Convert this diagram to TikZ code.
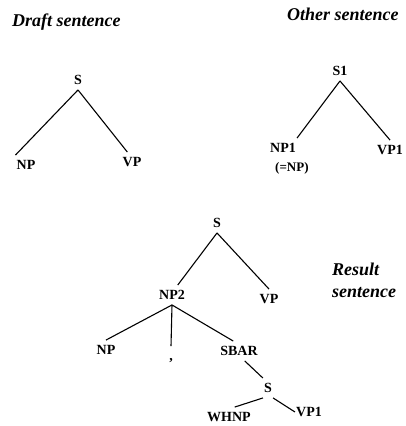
\documentclass[tikz,border=0pt]{standalone}
\usepackage{fontspec}
\setmainfont{Liberation Serif}
\usetikzlibrary{positioning}

\tikzset{
  cat/.style={inner xsep=1pt, inner ysep=5pt, text height=9.5pt, text depth=0pt,
    font=\fontsize{14}{16}\selectfont\bfseries},
  note/.style={font=\fontsize{18}{22}\selectfont\bfseries\itshape, inner sep=0pt},
  branch/.style={line width=1.1pt}
}

\begin{document}
\begin{tikzpicture}[x=1pt, y=-1pt]
    \useasboundingbox (0,0) rectangle (405,426);

    % Labels
    \node[note, anchor=base west] (draft) at (12,26) {Draft sentence};
    \node[note, anchor=base west] (other) at (287,20) {Other sentence};
    \node[note, anchor=north west, align=left] (result) at (332,263) {Result\\sentence};

    % Draft tree
    \node[cat] (s) at (78,80) {S};
    \node[cat] (np) at (26,165) {NP};
    \node[cat] (vp) at (132,162) {VP};
    \draw[branch] (s.south) -- (np.north west);
    \draw[branch] (s.south) -- (vp.115);

    % Other tree
    \node[cat] (s1) at (340,71) {S1};
    \node[cat] (np1) at (283,148) {NP1};
    \node[cat, anchor=west, text height=9pt, text depth=3pt,
      font=\fontsize{13}{15}\selectfont\bfseries] (eqnp) at (274,168) {(=NP)};
    \node[cat] (vp1) at (390,150) {VP1};
    \draw[branch] (s1.south) -- (np1.north east);
    \draw[branch] (s1.south) -- (vp1.north);

    % Result tree
    \node[cat] (sr) at (217,223) {S};
    \node[cat] (np2) at (172,295) {NP2};
    \node[cat] (vpr) at (269,299) {VP};
    \node[cat] (npr) at (106,350) {NP};
    \node[cat] (comma) at (171,356) {,};
    \node[cat] (sbar) at (239,351) {SBAR};
    \node[cat] (ss) at (268,388) {S};
    \node[cat] (whnp) at (229,417) {WHNP};
    \node[cat] (vp1r) at (309,412) {VP1};
    \draw[branch] (sr.south) -- (np2.60);
    \draw[branch] (sr.south) -- (vpr.north);
    \draw[branch] (np2.south) -- (npr.north);
    \draw[branch] (np2.south) -- (comma.north);
    \draw[branch] (np2.south) -- (sbar.120);
    \draw[branch] (sbar.-60) -- (ss.north west);
    \draw[branch] (ss.south west) -- (whnp.60);
    \draw[branch] (ss.south east) -- (vp1r.west);
\end{tikzpicture}
\end{document}
